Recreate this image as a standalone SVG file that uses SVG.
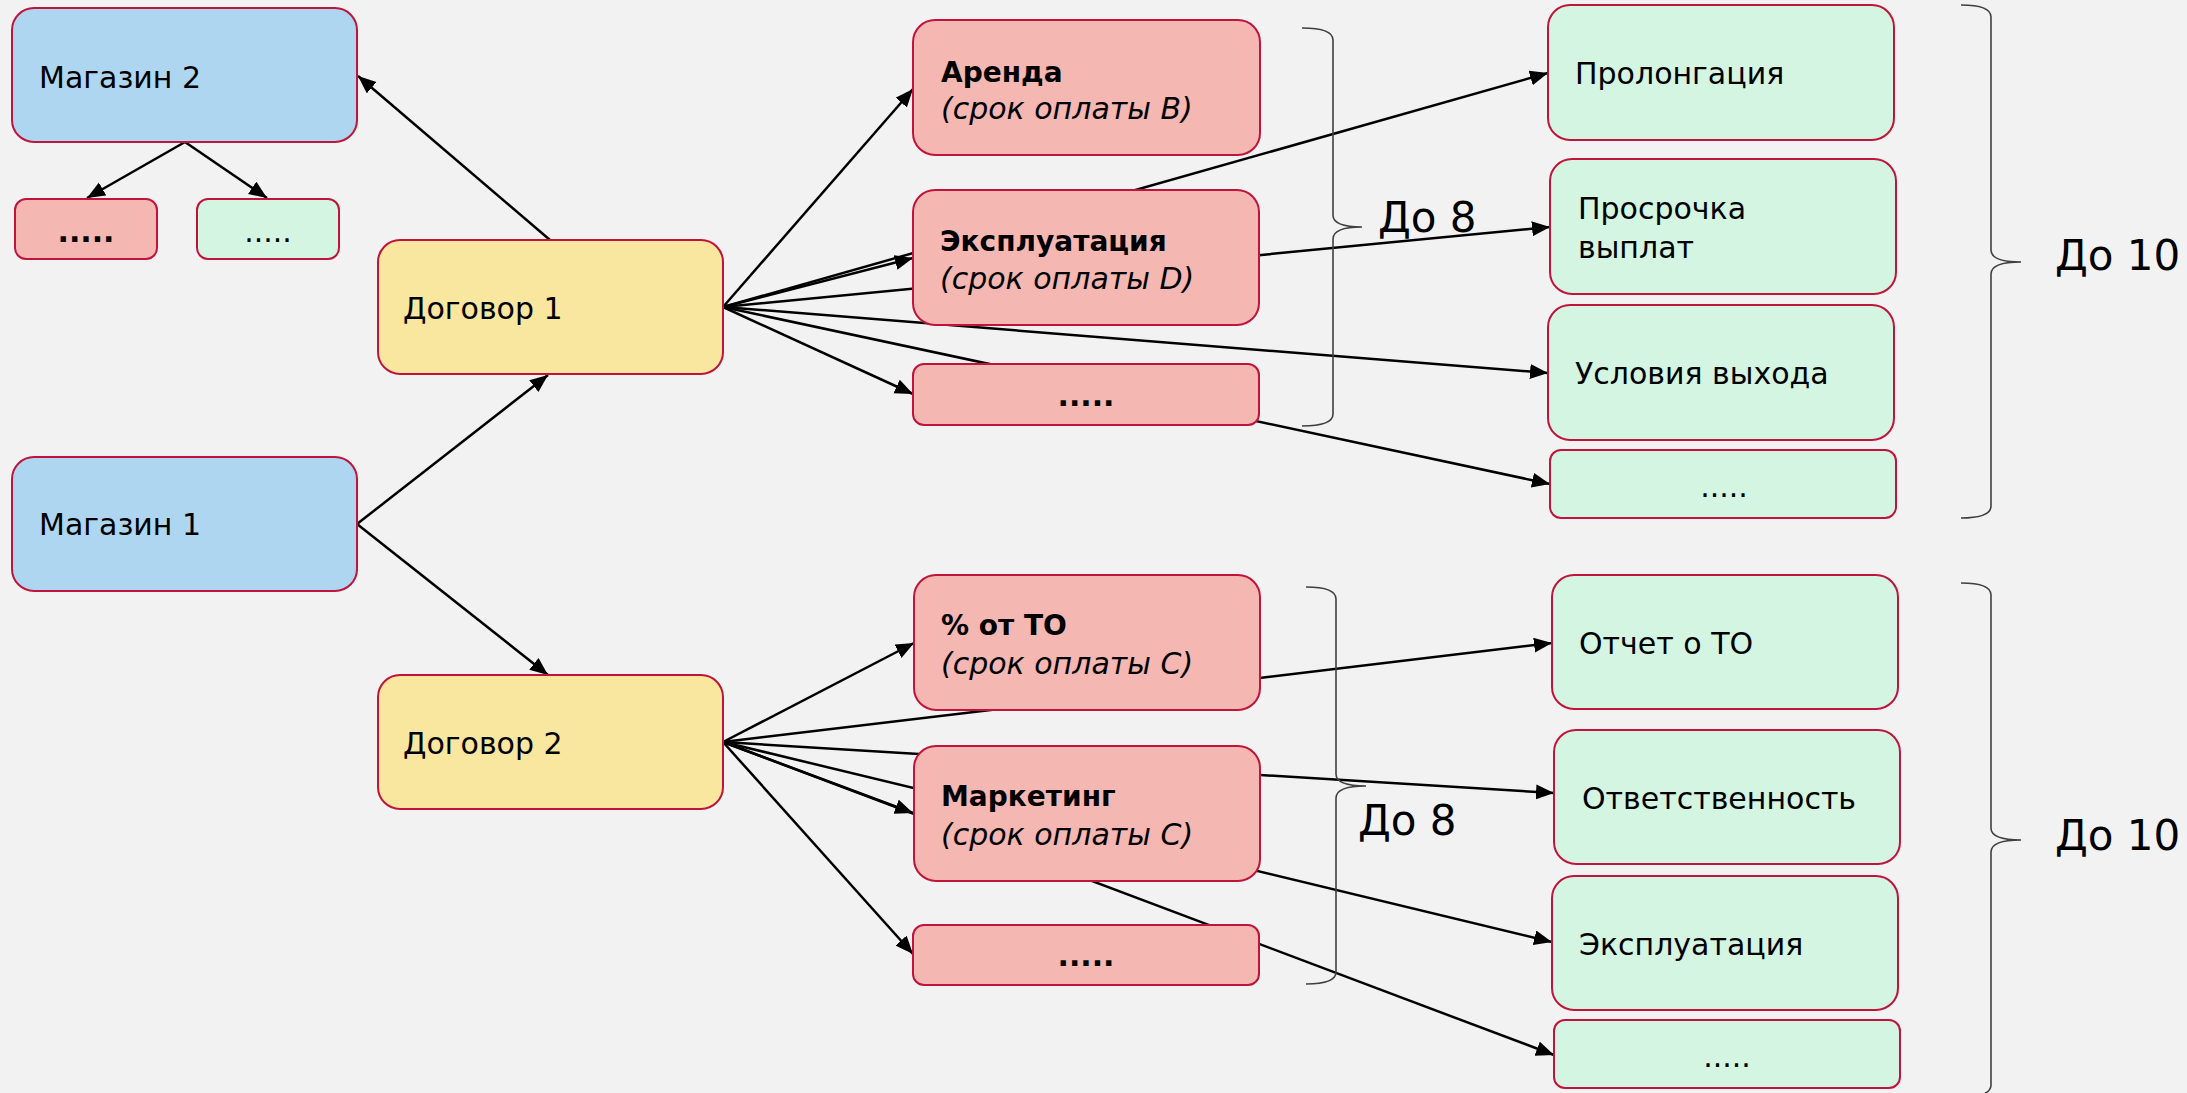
<svg xmlns="http://www.w3.org/2000/svg" width="2187" height="1093" viewBox="0 0 2187 1093">
<defs>
<marker id="arr" markerUnits="userSpaceOnUse" markerWidth="20" markerHeight="16" refX="18" refY="7.5" orient="auto">
<path d="M0,0 L18,7.5 L0,15 z" fill="#000"/>
</marker>
<style>
.n{stroke:#c0143c;stroke-width:2}
.blue{fill:#aed6f1}
.yel{fill:#f9e79f}
.pink{fill:#f5b7b1}
.grn{fill:#d5f5e3}
text{font-family:"DejaVu Sans","Noto Sans",sans-serif;fill:#000}
.t{font-size:30px}
.b{font-size:28px;font-weight:bold}
.i{font-size:30px;font-style:italic}
.big{font-size:42px}
.c{stroke:#000;stroke-width:2.5;fill:none;marker-end:url(#arr)}
.br{stroke:#404040;stroke-width:1.6;fill:none}
.dots{font-size:30px;text-anchor:middle}
</style>
</defs>
<rect width="2187" height="1093" fill="#f2f2f2"/>

<g id="connectors">
<line class="c" x1="550" y1="240" x2="358" y2="76"/>
<line class="c" x1="185" y1="142" x2="87" y2="198"/>
<line class="c" x1="185" y1="142" x2="267" y2="198"/>
<line class="c" x1="357" y1="524" x2="548" y2="375"/>
<line class="c" x1="357" y1="524" x2="548" y2="675"/>
<line class="c" x1="723" y1="307" x2="913" y2="89"/>
<line class="c" x1="723" y1="307" x2="913" y2="258"/>
<line class="c" x1="723" y1="307" x2="913" y2="394"/>
<line class="c" x1="723" y1="307" x2="1548" y2="73"/>
<line class="c" x1="723" y1="307" x2="1550" y2="227"/>
<line class="c" x1="723" y1="307" x2="1548" y2="373"/>
<line class="c" x1="723" y1="307" x2="1550" y2="484"/>
<line class="c" x1="723" y1="742" x2="914" y2="643"/>
<line class="c" x1="723" y1="742" x2="913" y2="813"/>
<line class="c" x1="723" y1="742" x2="913" y2="954"/>
<line class="c" x1="723" y1="742" x2="1552" y2="643"/>
<line class="c" x1="723" y1="742" x2="1554" y2="793"/>
<line class="c" x1="723" y1="742" x2="1552" y2="942"/>
<line class="c" x1="723" y1="742" x2="1554" y2="1055"/>
</g>

<g id="mag2"><rect class="n blue" x="12" y="8" width="345" height="134" rx="22"/><text class="t" x="39" y="88">Магазин 2</text></g>
<g id="sub-pink"><rect class="n pink" x="15" y="199" width="142" height="60" rx="11"/><text class="dots" x="86" y="242" font-weight="bold">.....</text></g>
<g id="sub-green"><rect class="n grn" x="197" y="199" width="142" height="60" rx="11"/><text class="dots" x="268" y="242">.....</text></g>
<g id="dog1"><rect class="n yel" x="378" y="240" width="345" height="134" rx="22"/><text class="t" x="403" y="319">Договор 1</text></g>
<g id="mag1"><rect class="n blue" x="12" y="457" width="345" height="134" rx="22"/><text class="t" x="39" y="535">Магазин 1</text></g>
<g id="dog2"><rect class="n yel" x="378" y="675" width="345" height="134" rx="22"/><text class="t" x="403" y="754">Договор 2</text></g>

<g id="arenda"><rect class="n pink" x="913" y="20" width="347" height="135" rx="22"/><text class="b" x="941" y="82">Аренда</text><text class="i" x="941" y="119">(срок оплаты B)</text></g>
<g id="expl"><rect class="n pink" x="913" y="190" width="346" height="135" rx="22"/><text class="b" x="940" y="251">Эксплуатация</text><text class="i" x="940" y="289">(срок оплаты D)</text></g>
<g id="pdots1"><rect class="n pink" x="913" y="364" width="346" height="61" rx="11"/><text class="dots" x="1086" y="406" font-weight="bold">.....</text></g>
<g id="to"><rect class="n pink" x="914" y="575" width="346" height="135" rx="22"/><text class="b" x="941" y="635">% от ТО</text><text class="i" x="941" y="674">(срок оплаты C)</text></g>
<g id="mark"><rect class="n pink" x="914" y="746" width="346" height="135" rx="22"/><text class="b" x="941" y="806">Маркетинг</text><text class="i" x="941" y="845">(срок оплаты C)</text></g>
<g id="pdots2"><rect class="n pink" x="913" y="925" width="346" height="60" rx="11"/><text class="dots" x="1086" y="966" font-weight="bold">.....</text></g>

<g id="prol"><rect class="n grn" x="1548" y="5" width="346" height="135" rx="22"/><text class="t" x="1575" y="84">Пролонгация</text></g>
<g id="prosr"><rect class="n grn" x="1550" y="159" width="346" height="135" rx="22"/><text class="t" x="1578" y="219">Просрочка</text><text class="t" x="1578" y="258">выплат</text></g>
<g id="usl"><rect class="n grn" x="1548" y="305" width="346" height="135" rx="22"/><text class="t" x="1575" y="384">Условия выхода</text></g>
<g id="gdots1"><rect class="n grn" x="1550" y="450" width="346" height="68" rx="11"/><text class="dots" x="1724" y="497">.....</text></g>
<g id="otchet"><rect class="n grn" x="1552" y="575" width="346" height="134" rx="22"/><text class="t" x="1579" y="654">Отчет о ТО</text></g>
<g id="otv"><rect class="n grn" x="1554" y="730" width="346" height="134" rx="22"/><text class="t" x="1582" y="809">Ответственность</text></g>
<g id="expl2"><rect class="n grn" x="1552" y="876" width="346" height="134" rx="22"/><text class="t" x="1579" y="955">Эксплуатация</text></g>
<g id="gdots2"><rect class="n grn" x="1554" y="1020" width="346" height="68" rx="11"/><text class="dots" x="1727" y="1067">.....</text></g>

<g id="brace1"><path class="br" d="M1302,28 Q1333,28 1333,40 L1333,215 Q1333,227 1362,227 Q1333,227 1333,239 L1333,414 Q1333,426 1302,426"/><text class="big" x="1378" y="232">До 8</text></g>
<g id="brace2"><path class="br" d="M1306,587 Q1336,587 1336,599 L1336,774 Q1336,786 1366,786 Q1336,786 1336,798 L1336,972 Q1336,984 1306,984"/><text class="big" x="1358" y="835">До 8</text></g>
<g id="brace3"><path class="br" d="M1961,5 Q1991,5 1991,17 L1991,250 Q1991,262 2021,262 Q1991,262 1991,274 L1991,506 Q1991,518 1961,518"/><text class="big" x="2055" y="270">До 10</text></g>
<g id="brace4"><path class="br" d="M1961,583 Q1991,583 1991,595 L1991,828 Q1991,840 2021,840 Q1991,840 1991,852 L1991,1085 Q1991,1097 1961,1097"/><text class="big" x="2055" y="850">До 10</text></g>
</svg>
